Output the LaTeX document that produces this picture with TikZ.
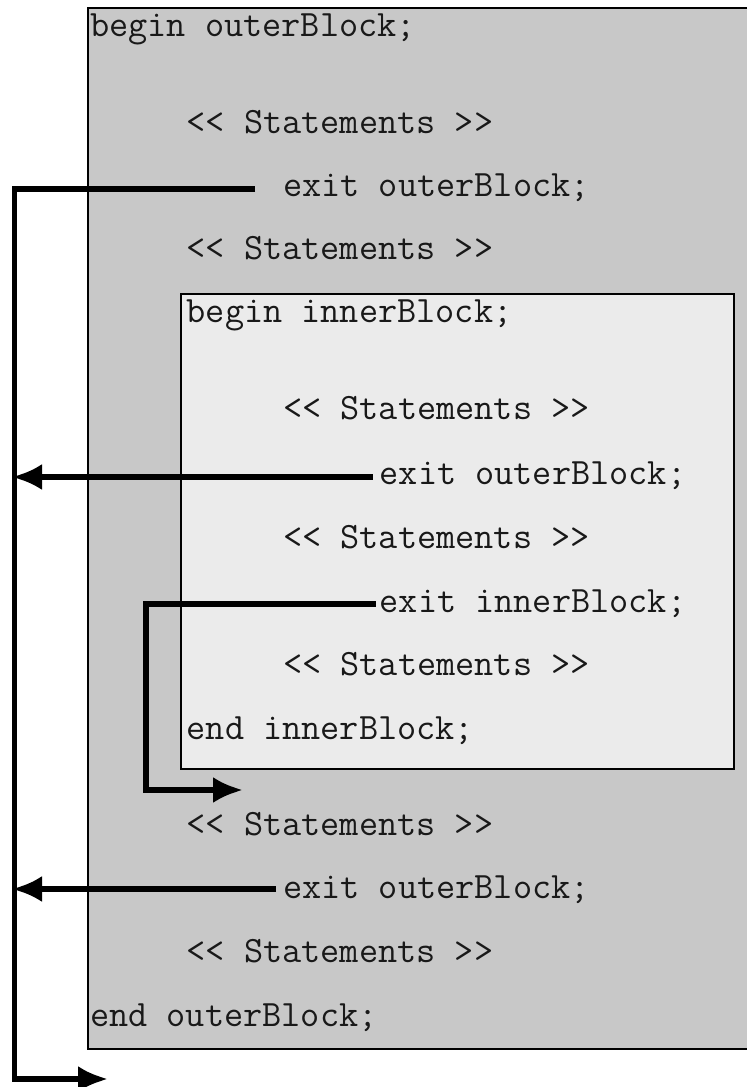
\documentclass[tikz,border=0pt]{standalone}
\usepackage{fontspec}
\usetikzlibrary{arrows.meta}
\definecolor{outerfill}{HTML}{C8C8C8}
\definecolor{innerfill}{HTML}{EBEBEB}
\tikzset{
  code/.style={anchor=base west, inner sep=0pt, text=black!90, font=\fontsize{37.2}{40}\selectfont\ttfamily},
  jump/.style={line width=5.5pt, -{Latex[length=30pt,width=26pt]}},
  boxline/.style={draw=black, line width=2.5pt}
}
\begin{document}
\begin{tikzpicture}[x=1pt,y=-1pt]
\useasboundingbox (0,0) rectangle (747,1087);
% outer block
\fill[outerfill] (88,8) rectangle (747,1049);
\draw[boxline] (747,8) -- (88,8) -- (88,1049) -- (747,1049);
% inner block
\draw[boxline, fill=innerfill] (181,294) rectangle (734,769);
% texts
\node[code] (t1)  at (90,36)     {begin outerBlock;};
\node[code] (t2)  at (186.5,133) {<< Statements >>};
\node[code] (t3)  at (283,196)   {exit outerBlock;};
\node[code] (t4)  at (186.5,259) {<< Statements >>};
\node[code] (t5)  at (186.5,322) {begin innerBlock;};
\node[code] (t6)  at (283,419)   {<< Statements >>};
\node[code] (t7)  at (379.5,484) {exit outerBlock;};
\node[code] (t8)  at (283,548)   {<< Statements >>};
\node[code] (t9)  at (379.5,612) {exit innerBlock;};
\node[code] (t10) at (283,675)   {<< Statements >>};
\node[code] (t11) at (186.5,739) {end innerBlock;};
\node[code] (t12) at (186.5,835) {<< Statements >>};
\node[code] (t13) at (283,898)   {exit outerBlock;};
\node[code] (t14) at (186.5,962) {<< Statements >>};
\node[code] (t15) at (90,1026)   {end outerBlock;};
% coordinates of connector ends
\coordinate (b1) at (14.5,1079);
\coordinate (e1) at (108,1079);
\coordinate (e2) at (12,477);
\coordinate (b3) at (146,790);
\coordinate (e3) at (243,790);
\coordinate (e4) at (12,889);
% connectors
\draw[jump] ([xshift=-28pt,yshift=7pt]t3.base west) -| (b1) -- (e1);
\draw[jump] ([xshift=-7pt,yshift=7pt]t7.base west) -- (e2);
\draw[jump] ([xshift=-4pt,yshift=8pt]t9.base west) -| (b3) -- (e3);
\draw[jump] ([xshift=-7pt,yshift=9pt]t13.base west) -- (e4);
\end{tikzpicture}
\end{document}
